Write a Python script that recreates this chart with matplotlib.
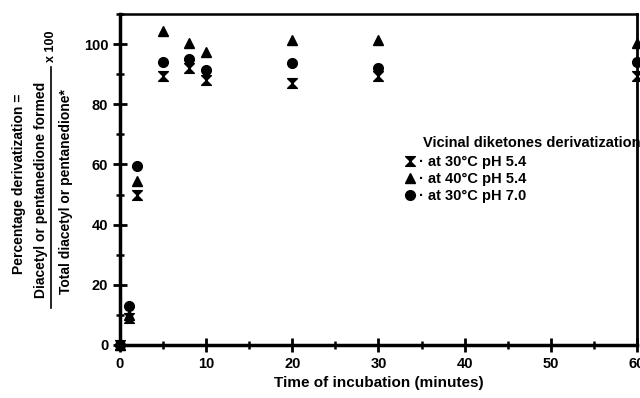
import matplotlib
matplotlib.use("Agg")
from matplotlib import pyplot as plt
from matplotlib.path import Path
from matplotlib.lines import Line2D
from matplotlib.ticker import MultipleLocator

plt.rcParams['font.family'] = ['Liberation Sans', 'DejaVu Sans']
plt.rcParams['font.weight'] = 'bold'

time_min = [0, 1, 2, 5, 8, 10, 20, 30, 60]
ph54_30c = [0, 9, 50, 89.5, 92, 88, 87, 89.5, 89.5]
ph54_40c = [0, 10, 54.5, 104.5, 100.5, 97.5, 101.3, 101.5, 100.5]
ph70_30c = [0, 13, 59.6, 94, 95, 91.5, 93.6, 92, 94]
series_labels = ["· at 30°C pH 5.4", "· at 40°C pH 5.4", "· at 30°C pH 7.0"]

# hourglass marker
hourglass = Path([(-1, 1), (1, 1), (-1, -1), (1, -1), (-1, 1)],
                 [Path.MOVETO, Path.LINETO, Path.LINETO, Path.LINETO, Path.CLOSEPOLY])

fig = plt.figure(figsize=(6.4, 3.98), dpi=100)
ax = fig.add_axes([0.1875, 0.1332, 0.8078, 0.8317])

ax.plot(time_min, ph54_30c, linestyle="none", marker=hourglass, ms=7, color="black",
        clip_on=False, label=series_labels[0], zorder=3)
ax.plot(time_min, ph54_40c, linestyle="none", marker="^", ms=7.5, color="black",
        clip_on=False, label=series_labels[1], zorder=3)
ax.plot(time_min, ph70_30c, linestyle="none", marker="o", ms=7, color="black",
        clip_on=False, label=series_labels[2], zorder=3)

ax.set_xlim(0, 60)
ax.set_ylim(0, 110)
ax.xaxis.set_major_locator(MultipleLocator(10))
ax.xaxis.set_minor_locator(MultipleLocator(5))
ax.yaxis.set_major_locator(MultipleLocator(20))
ax.yaxis.set_minor_locator(MultipleLocator(10))
ax.tick_params(which="major", direction="inout", length=10, width=2, labelsize=10.5)
ax.tick_params(which="minor", direction="inout", length=6, width=1.8)
for lab in ax.get_xticklabels() + ax.get_yticklabels():
    lab.set_fontweight("bold")

ax.spines["left"].set_linewidth(2.5)
ax.spines["bottom"].set_linewidth(2.5)
ax.spines["right"].set_linewidth(2)
ax.spines["top"].set_linewidth(1.8)

ax.set_xlabel("Time of incubation (minutes)", fontsize=11, fontweight="bold", labelpad=4)

# y label as a fraction
fig.text(19 / 640, 1 - 184 / 398, "Percentage derivatization =", rotation=90,
         ha="center", va="center", fontsize=10, fontweight="bold")
fig.text(41 / 640, 1 - 190 / 398, "Diacetyl or pentanedione formed", rotation=90,
         ha="center", va="center", fontsize=10, fontweight="bold")
fig.text(66 / 640, 1 - 192 / 398, "Total diacetyl or pentanedione*", rotation=90,
         ha="center", va="center", fontsize=10, fontweight="bold")
fig.text(51 / 640, 1 - 46 / 398, "x 100", rotation=90,
         ha="center", va="center", fontsize=9, fontweight="bold")
fig.add_artist(Line2D([51 / 640, 51 / 640], [1 - 67 / 398, 1 - 308 / 398],
                      color="black", lw=1.2, transform=fig.transFigure))

fig.text(423 / 640, 1 - 143 / 398, "Vicinal diketones derivatization",
         ha="left", va="center", fontsize=10.5, fontweight="bold")
ax.legend(loc="upper left", bbox_to_anchor=(404 / 640, 1 - 155 / 398),
          bbox_transform=fig.transFigure, frameon=False, handlelength=0.8,
          handletextpad=0.2, labelspacing=0.2, borderpad=0, borderaxespad=0,
          prop={"size": 10.5, "weight": "bold"})

fig.savefig("out.png", dpi=100)
